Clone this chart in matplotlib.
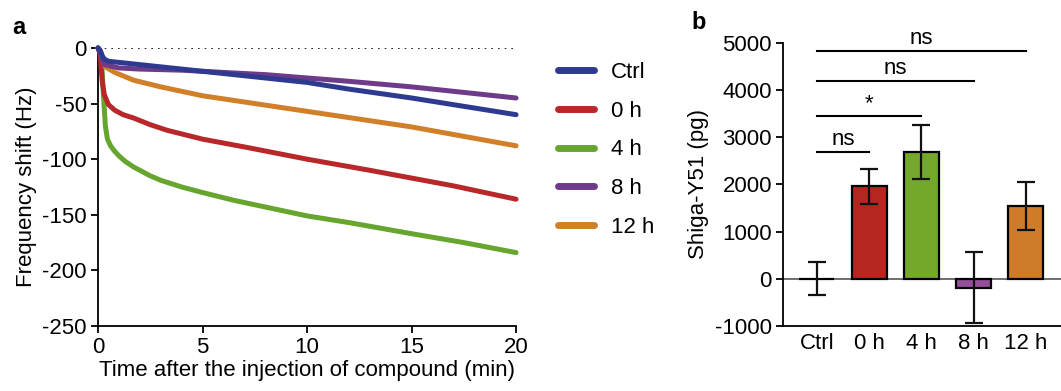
import matplotlib
matplotlib.use('Agg')
from matplotlib import pyplot as plt
import numpy as np

plt.rcParams['font.family'] = ['Liberation Sans', 'DejaVu Sans']
plt.rcParams['font.size'] = 16
plt.rcParams['axes.unicode_minus'] = False

# panel a: frequency shift curves
t_ctrl = [0, 0.1, 0.2, 0.3, 0.5, 1, 2, 3.5, 5, 8, 10, 12, 15, 18, 20]
f_ctrl = [0, -2, -7, -10, -12, -13, -15, -18, -21, -27, -31, -37, -45, -54, -60]
t_0h = [0, 0.1, 0.2, 0.3, 0.5, 0.8, 1.2, 1.7, 2.5, 3.3, 5, 7, 10, 13, 15, 17, 20]
f_0h = [0, -5, -30, -42, -51, -56, -60, -63, -69, -74, -82, -89, -100, -110, -117, -124, -136]
t_4h = [0, 0.15, 0.25, 0.35, 0.45, 0.6, 0.8, 1.0, 1.3, 1.7, 2, 2.5, 3, 4, 5, 6.5, 8, 10, 12, 15, 17.5, 20]
f_4h = [0, -5, -40, -70, -82, -88, -93, -97, -102, -107, -110, -115, -119, -125, -130, -137, -143,
        -151, -157, -167, -175, -184]
t_8h = [0, 0.1, 0.3, 1, 2, 4, 6, 8, 10, 12, 15, 18, 20]
f_8h = [0, -5, -15, -18, -19, -20, -22, -24, -27, -30, -35, -41, -45]
t_12h = [0, 0.15, 0.35, 0.8, 1.7, 3, 5, 7.5, 10, 15, 20]
f_12h = [0, -5, -17, -22, -29, -35, -43, -50, -57, -71, -88]

series_names = ['Ctrl', '0 h', '4 h', '8 h', '12 h']
line_colors = ['#2E3A8F', '#B8282A', '#66A52E', '#6E3A8A', '#D27F2A']

# panel b: Shiga-Y51 amounts
groups = ['Ctrl', '0 h', '4 h', '8 h', '12 h']
amounts = [0, 1960, 2680, -190, 1550]
errors = [350, 370, 570, 750, 510]
bar_colors = ['white', '#B5261F', '#74A82C', '#954E9A', '#CE7B2A']

# significance brackets: (start, end, height, label)
brackets = [(0, 1, 2696, 'ns'), (0, 2, 3459, '*'), (0, 3, 4194, 'ns'), (0, 4, 4837, 'ns')]


def main():
    fig = plt.figure(figsize=(10.61, 3.91), dpi=100)

    ax = fig.add_axes([0.0924, 0.1662, 0.394, 0.7112])
    curves = [(t_ctrl, f_ctrl), (t_0h, f_0h), (t_4h, f_4h), (t_8h, f_8h), (t_12h, f_12h)]
    draw_order = [2, 1, 4, 3, 0]
    for k, i in enumerate(draw_order):
        t, f = curves[i]
        ax.plot(t, f, color=line_colors[i], lw=3.6, solid_capstyle='round',
                solid_joinstyle='round', clip_on=False, zorder=3 + k)
    ax.axhline(0, color='black', lw=1.2, ls=(0, (1, 3)), zorder=1)
    ax.set_xlim(0, 20)
    ax.set_ylim(-250, 0)
    ax.set_xticks([0, 5, 10, 15, 20])
    ax.set_yticks([0, -50, -100, -150, -200, -250])
    for s in ['top', 'right']:
        ax.spines[s].set_visible(False)
    ax.spines['left'].set_linewidth(1.3)
    ax.spines['bottom'].set_linewidth(1.3)
    ax.tick_params(width=1.3, length=5, labelsize=16, pad=3)
    ax.set_xlabel('Time after the injection of compound (min)', fontsize=16, labelpad=1)
    ax.set_ylabel('Frequency shift (Hz)', fontsize=16, labelpad=4)

    handles = [plt.Line2D([], [], color=c, lw=5, solid_capstyle='round') for c in line_colors]
    fig.legend(handles, series_names, loc='upper left', bbox_to_anchor=(0.522, 0.853),
               frameon=False, fontsize=16, handlelength=1.6, labelspacing=0.8,
               handletextpad=0.75, borderpad=0.2, borderaxespad=0)

    bx = fig.add_axes([0.738, 0.1662, 0.262, 0.724])
    x = np.arange(len(groups))
    bx.bar(x, amounts, width=0.67, color=bar_colors, edgecolor='black', linewidth=1.6, zorder=2)
    bx.errorbar(x, amounts, yerr=errors, fmt='none', ecolor='#111111', elinewidth=1.6,
                capsize=6.5, capthick=1.6, zorder=3)
    bx.axhline(0, color='#555555', lw=1.2, zorder=1)
    bx.set_xlim(-0.65, 4.67)
    bx.set_ylim(-1000, 5000)
    bx.set_yticks([-1000, 0, 1000, 2000, 3000, 4000, 5000])
    bx.set_xticks(x)
    bx.set_xticklabels(groups)
    for s in ['top', 'right']:
        bx.spines[s].set_visible(False)
    bx.spines['left'].set_linewidth(1.3)
    bx.spines['bottom'].set_linewidth(1.3)
    bx.tick_params(axis='y', width=1.3, length=5, labelsize=16, pad=3)
    bx.tick_params(axis='x', length=0, labelsize=16, pad=5)
    bx.set_ylabel('Shiga-Y51 (pg)', fontsize=16, labelpad=4)

    for a, b, h, lab in brackets:
        bx.plot([a, b], [h, h], color='black', lw=1.5, clip_on=False)
        bx.text((a + b) / 2, h + 40, lab, ha='center', va='bottom', fontsize=16)

    fig.text(0.012, 0.912, 'a', fontsize=17, fontweight='bold')
    fig.text(0.652, 0.925, 'b', fontsize=17, fontweight='bold')

    fig.savefig('out.png', dpi=100)


if __name__ == '__main__':
    main()
